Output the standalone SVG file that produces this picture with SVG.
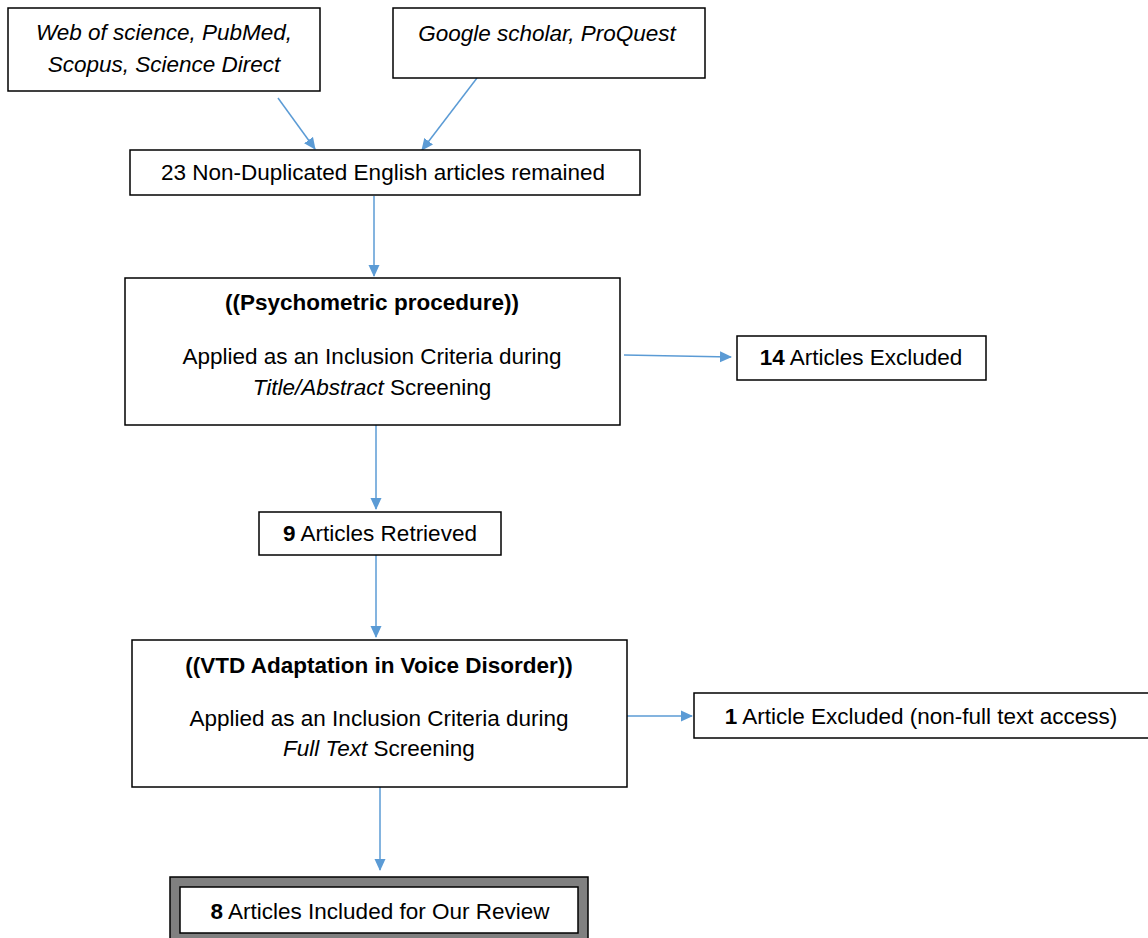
<svg xmlns="http://www.w3.org/2000/svg" width="1148" height="938" viewBox="0 0 1148 938">
<style>
.box{fill:#fff;stroke:#000;stroke-width:1.5}
.t{font-family:"Liberation Sans",Arial,sans-serif;font-size:22.5px;fill:#000;text-anchor:middle}
.b{font-weight:bold}
.i{font-style:italic}
.c{fill:none;stroke:#5B9BD5;stroke-width:1.5}
</style>
<defs>
<marker id="ah" viewBox="0 0 12 12" refX="11" refY="6" markerWidth="12" markerHeight="12" markerUnits="userSpaceOnUse" orient="auto">
<path d="M0,0.5 L12,6 L0,11.5 z" fill="#5B9BD5"/>
</marker>
</defs>
<rect width="1148" height="938" fill="#fff"/>
<g id="connectors">
<line class="c" x1="278" y1="98" x2="315" y2="149" marker-end="url(#ah)"/>
<line class="c" x1="477" y1="78" x2="422" y2="150" marker-end="url(#ah)"/>
<line class="c" x1="374" y1="196" x2="374" y2="276" marker-end="url(#ah)"/>
<line class="c" x1="624" y1="355" x2="731" y2="357" marker-end="url(#ah)"/>
<line class="c" x1="376" y1="425" x2="376" y2="509" marker-end="url(#ah)"/>
<line class="c" x1="376" y1="555" x2="376" y2="637" marker-end="url(#ah)"/>
<line class="c" x1="624" y1="716" x2="692" y2="716" marker-end="url(#ah)"/>
<line class="c" x1="380" y1="787" x2="380" y2="870" marker-end="url(#ah)"/>
</g>
<g id="n1">
<rect class="box" x="8" y="8" width="312" height="83"/>
<text class="t i" x="164" y="40">Web of science, PubMed,</text>
<text class="t i" x="164" y="72">Scopus, Science Direct</text>
</g>
<g id="n2">
<rect class="box" x="393" y="8" width="312" height="70"/>
<text class="t i" x="547" y="41">Google scholar, ProQuest</text>
</g>
<g id="n3">
<rect class="box" x="130" y="150" width="510" height="45"/>
<text class="t" x="383" y="180">23 Non-Duplicated English articles remained</text>
</g>
<g id="n4">
<rect class="box" x="125" y="278" width="495" height="147"/>
<text class="t b" x="372" y="310">((Psychometric procedure))</text>
<text class="t" x="372" y="364">Applied as an Inclusion Criteria during</text>
<text class="t" x="372" y="395"><tspan class="i">Title/Abstract</tspan> Screening</text>
</g>
<g id="n5">
<rect class="box" x="737" y="336" width="249" height="44"/>
<text class="t" x="861" y="365"><tspan class="b">14</tspan> Articles Excluded</text>
</g>
<g id="n6">
<rect class="box" x="259" y="512" width="242" height="43"/>
<text class="t" x="380" y="541"><tspan class="b">9</tspan> Articles Retrieved</text>
</g>
<g id="n7">
<rect class="box" x="132" y="640" width="495" height="147"/>
<text class="t b" x="379" y="673">((VTD Adaptation in Voice Disorder))</text>
<text class="t" x="379" y="726">Applied as an Inclusion Criteria during</text>
<text class="t" x="379" y="756"><tspan class="i">Full Text</tspan> Screening</text>
</g>
<g id="n8">
<rect class="box" x="694" y="693" width="460" height="45"/>
<text class="t" x="921" y="724"><tspan class="b">1</tspan> Article Excluded (non-full text access)</text>
</g>
<g id="n9">
<rect x="170" y="877" width="418" height="70" fill="#808080" stroke="#000" stroke-width="1.5"/>
<rect x="180" y="887" width="398" height="46" fill="#fff" stroke="#000" stroke-width="1.5"/>
<text class="t" x="380" y="919"><tspan class="b">8</tspan> Articles Included for Our Review</text>
</g>
</svg>
